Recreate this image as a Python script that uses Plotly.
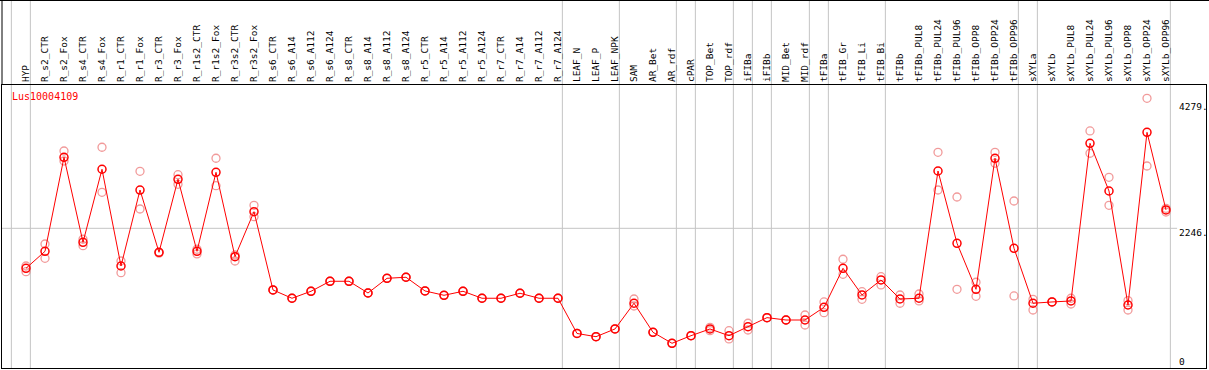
import plotly.graph_objects as go

categories = ["HYP", "R_s2_CTR", "R_s2_Fox", "R_s4_CTR", "R_s4_Fox", "R_r1_CTR", "R_r1_Fox",
              "R_r3_CTR", "R_r3_Fox", "R_r1s2_CTR", "R_r1s2_Fox", "R_r3s2_CTR", "R_r3s2_Fox",
              "R_s6_CTR", "R_s6_A14", "R_s6_A112", "R_s6_A124", "R_s8_CTR", "R_s8_A14",
              "R_s8_A112", "R_s8_A124", "R_r5_CTR", "R_r5_A14", "R_r5_A112", "R_r5_A124",
              "R_r7_CTR", "R_r7_A14", "R_r7_A112", "R_r7_A124", "LEAF_N", "LEAF_P", "LEAF_NPK",
              "SAM", "AR_Bet", "AR_rdf", "cPAR", "TOP_Bet", "TOP_rdf", "iFIBa", "iFIBb",
              "MID_Bet", "MID_rdf", "tFIBa", "tFIB_Gr", "tFIB_Li", "tFIB_Bi", "tFIBb",
              "tFIBb_PUL8", "tFIBb_PUL24", "tFIBb_PUL96", "tFIBb_OPP8", "tFIBb_OPP24",
              "tFIBb_OPP96", "sXYLa", "sXYLb", "sXYLb_PUL8", "sXYLb_PUL24", "sXYLb_PUL96",
              "sXYLb_OPP8", "sXYLb_OPP24", "sXYLb_OPP96"]

mean_values = [1599, 1874, 3396, 2020, 3202, 1636, 2866, 1858, 3040, 1874, 3153, 1787, 2515,
               1248, 1114, 1227, 1389, 1389, 1199, 1437, 1454, 1232, 1162, 1227, 1114,
               1114, 1195, 1114, 1114, 544, 492, 617, 1033, 563, 385, 508, 617, 508, 654, 800,
               762, 762, 968, 1599, 1167, 1410, 1102, 1114, 3174, 2004, 1259, 3380, 1923,
               1033, 1054, 1070, 3622, 2850, 1005, 3800, 2543]

rep1_values = [1636, 1992, 3498, 2069, 3558, 1717, 3169, 1858, 3114, 1907, 3380, 1814, 2619,
               1248, 1114, 1227, 1389, 1389, 1199, 1437, 1454, 1232, 1162, 1227, 1114,
               1114, 1195, 1114, 1114, 544, 492, 617, 1102, 563, 385, 508, 644, 589, 709, 800,
               762, 843, 1054, 1745, 1220, 1463, 1167, 1183, 3477, 2753, 1373, 3477, 2688,
               1097, 1054, 1114, 3822, 3072, 1075, 4351, 2570]

rep2_values = [1544, 1761, 3336, 1965, 2829, 1528, 2559, 1845, 2959, 1831, 2936, 1717, 2434,
               1248, 1114, 1227, 1389, 1389, 1199, 1437, 1454, 1232, 1162, 1227, 1114,
               1114, 1195, 1114, 1114, 544, 492, 617, 989, 563, 385, 508, 589, 455, 600, 800,
               762, 681, 881, 1502, 1097, 1329, 1033, 1070, 2866, 1259, 1146, 3299, 1151,
               924, 1054, 1021, 3461, 2619, 924, 3255, 2510]

group_ends = [-1, 0, 28, 31, 34, 35, 37, 38, 39, 41, 42, 45, 52, 53, 60]
gene_name = "Lus10004109"
y_tick_values = [4279, 2246, 0]
y_tick_text = ["4279.", "2246.", "0"]

idx = list(range(len(categories)))
MONO = "DejaVu Sans Mono"

fig = go.Figure()
for reps in (rep1_values, rep2_values):
    fig.add_trace(go.Scatter(
        x=idx, y=reps, mode="markers",
        marker=dict(symbol="circle-open", size=8, color="rgba(236,120,120,0.75)",
                    line=dict(width=1.3)),
        hoverinfo="skip", showlegend=False))
fig.add_trace(go.Scatter(
    x=idx, y=mean_values, mode="lines+markers",
    line=dict(color="#ff0000", width=1),
    marker=dict(symbol="circle-open", size=8, color="#ff0000", line=dict(width=1.5)),
    showlegend=False))

shapes = []
for g in group_ends:
    shapes.append(dict(type="line", xref="x", yref="paper", x0=g + 0.23, x1=g + 0.23,
                       y0=0, y1=1.31, line=dict(color="#c4c4c4", width=1), layer="below"))
# horizontal grid line at middle tick
shapes.append(dict(type="line", xref="paper", yref="y", x0=0, x1=0.976,
                   y0=y_tick_values[1], y1=y_tick_values[1],
                   line=dict(color="#c4c4c4", width=1), layer="below"))
# header borders
shapes.append(dict(type="line", xref="paper", yref="paper", x0=-0.01, x1=1.01,
                   y0=1.2995, y1=1.2995, line=dict(color="black", width=1.5)))
shapes.append(dict(type="line", xref="paper", yref="paper", x0=0, x1=0,
                   y0=1, y1=1.31, line=dict(color="black", width=1)))

annotations = [dict(text=gene_name, xref="paper", yref="paper", x=(10 - 2) / 1204,
                    y=(368 - 97) / 283, xanchor="left", yanchor="middle", showarrow=False,
                    font=dict(family=MONO, size=10, color="#ff0000"))]
shifts = [-4, -4, 6]
for v, t, s in zip(y_tick_values, y_tick_text, shifts):
    annotations.append(dict(text=t, xref="paper", yref="y", x=(1177 - 2) / 1204, y=v,
                            yshift=s, xanchor="left", yanchor="middle", showarrow=False,
                            font=dict(family=MONO, size=9.5, color="black")))

fig.update_layout(
    width=1209, height=370,
    margin=dict(l=2, r=3, t=85, b=2),
    paper_bgcolor="white", plot_bgcolor="white",
    shapes=shapes, annotations=annotations,
    xaxis=dict(range=[-1.263, 62.105], side="top", tickmode="array", tickvals=idx,
               ticktext=categories, tickangle=-90, ticks="", showgrid=False, zeroline=False,
               showline=True, mirror=True, linecolor="black", linewidth=1,
               tickfont=dict(family=MONO, size=9.5, color="black")),
    yaxis=dict(range=[-15, 4566], showticklabels=False, ticks="", showgrid=False,
               zeroline=False, showline=True, mirror=True, linecolor="black", linewidth=1),
)

fig.write_html("out.html", config={"displayModeBar": False},
               post_script="document.body.style.margin='0';")
